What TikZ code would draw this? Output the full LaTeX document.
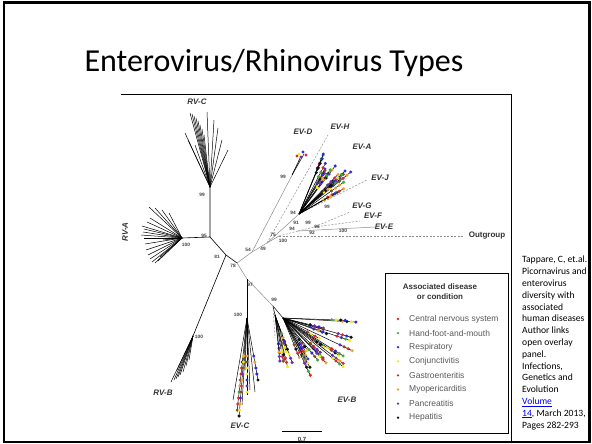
\documentclass[tikz,border=0pt]{standalone}
\usepackage{fontspec}
\setmainfont{Carlito}
\newfontfamily\arialf{Liberation Sans}
\usetikzlibrary{calc}
\definecolor{dc1}{HTML}{E3262B}
\definecolor{dc2}{HTML}{3DAA3D}
\definecolor{dc3}{HTML}{2A2AE0}
\definecolor{dc4}{HTML}{F2EA1C}
\definecolor{dc5}{HTML}{8A4A1F}
\definecolor{dc6}{HTML}{F0A23A}
\definecolor{dc7}{HTML}{6B2FB0}
\definecolor{dc8}{HTML}{111111}
\definecolor{linkblue}{HTML}{0000EE}
\tikzset{
 lab/.style={font=\arialf\bfseries\itshape\fontsize{8}{9}\selectfont, text=black!80, inner sep=0},
 bs/.style={font=\arialf\bfseries\fontsize{4.8}{5}\selectfont, text=black!75, inner sep=0},
 rv/.style={line width=0.6pt, black},
 evl/.style={line width=0.5pt, black!45},
 evd/.style={line width=0.5pt, black!45, dash pattern=on 2pt off 1.5pt},
 tb/.style={line width=0.5pt, black},
 legtxt/.style={font=\arialf\fontsize{8.5}{9}\selectfont, text=black!65, anchor=west, inner sep=0},
}
\begin{document}
\begin{tikzpicture}[x=1pt,y=-1pt]
\useasboundingbox (0,0) rectangle (592,444);
\fill[white] (0,0) rectangle (592,444);

% title
\node[font=\fontsize{32}{38}\selectfont, anchor=base, inner sep=0] (title) at (274,72) {Enterovirus/Rhinovirus Types};

% figure border
\draw[line width=1pt] (121,95) -- (511,95) -- (511,442);

% ---------- tree coordinates
\coordinate (A) at (210,237);
\coordinate (RVCr) at (210,187);
\coordinate (RVAr) at (182,238);
\coordinate (B) at (226,255);
\coordinate (RVBr) at (193,336);
\coordinate (M) at (237,263);
\coordinate (N1) at (252,252);
\coordinate (N2) at (267,243);
\coordinate (N3) at (279,236);
\coordinate (N4) at (299,214);
\coordinate (N6) at (298,231);
\coordinate (N7) at (314,227);
\coordinate (P1) at (247,279);
\coordinate (P2) at (247,318);
\coordinate (P3) at (273,306);
\coordinate (G1) at (275,315);
\coordinate (G2) at (283,318);
\coordinate (EVDr) at (300,160);
\coordinate (EVHe) at (328,135);
\coordinate (EVJe) at (367,180);
\coordinate (EVGe) at (350,212);
\coordinate (EVFe) at (360,221);
\coordinate (EVEe) at (375,227);
\coordinate (OGe) at (463,236);
\coordinate (EVBd) at (275,338);

% RV backbone
\draw[rv] (RVCr) -- (A) -- (RVAr);
\draw[rv] (A) -- (B) -- (M);
\draw[rv] (B) -- (RVBr);
% RV-C fan
\foreach \tx/\ty in {190/113,192/114,194/116,196/118,198/121,200/125,202/129,204/135,185/133,188/140,195/145,214/120,218/128,222/140,228/150,207/112}
  \draw[tb] (RVCr) -- (\tx,\ty);
% RV-A fan
\foreach \tx/\ty in {149/207,155/208,162/210,169/213,142/226,143/232,144/238,145/244,146/250,148/255,150/259,152/262,155/263,158/261,160/257,147/222,150/218,163/240,141/235,144/229}
  \draw[tb] (RVAr) -- (\tx,\ty);
% RV-B fan
\foreach \tx/\ty in {174/380,176/379,178/377,180/375,183/372,186/366,189/360,177/370,171/382}
  \draw[tb] (RVBr) -- (\tx,\ty);

% EV backbone
\draw[evl] (M) -- (N1) -- (N2) -- (N3);
\draw[evl] (N1) -- (EVDr);
\draw[evd] (N2) -- (EVHe);
\draw[evl] (N2) -- (N4);
\draw[evd] (N3) -- (OGe);
\draw[evd] (N3) -- (N6);
\draw[evd] (N6) -- (N7) -- (EVGe);
\draw[evd] (N7) -- (EVFe);
\draw[evl] (N6) -- (EVEe);
\draw[evd] (N4) -- (EVJe);
\draw[evl] (M) -- (P1) -- (P3);
\draw[rv] (P1) -- (P2);
\draw[tb] (P3) -- (G1);
\draw[tb] (P3) -- (G2);
\draw[evd] (P3) -- (EVBd);

% EV-D tip
\draw[tb] (292,175) -- (301,156);
\draw[tb] (292,175) -- (304,154);
\foreach \dx/\dy/\cc in {299/154/4,303/152/3,306/155/1,301/157/7,297/156/1}
  \fill[fill=dc\cc] (\dx,\dy) circle (1.7);

% EV-A
\pgfmathsetseed{11}
\foreach \k in {1,...,22}{
  \pgfmathsetmacro{\myang}{292+44*rnd}
  \pgfmathsetmacro{\mylen}{42+26*rnd}
  \draw[tb] (N4) -- ++(\myang:\mylen);
  \foreach \j in {0,...,3}{
    \pgfmathsetmacro{\dcol}{int(min(8,1+8*rnd))}
    \pgfmathsetmacro{\rr}{\mylen-5*\j}
    \fill[fill=dc\dcol] (N4) ++(\myang:\rr) circle (1.7);
  }
}

% EV-C
\foreach \tx/\ty in {233/400,237/412,239/417,242/405,247/395,250/390,255/392,258/380,245/370}
  \draw[tb] (P2) -- (\tx,\ty);
\pgfmathsetseed{5}
\foreach \tx/\ty in {237/412,247/395,258/380,239/417}{
  \foreach \yy in {356,362,...,\ty}{
    \pgfmathsetmacro{\dcol}{int(min(8,1+8*rnd))}
    \pgfmathsetmacro{\xx}{247+(\tx-247)*(\yy-318)/(\ty-318)}
    \fill[fill=dc\dcol] (\xx,\yy) circle (1.7);
  }
}

% EV-B
\pgfmathsetseed{23}
\foreach \k in {1,...,9}{
  \pgfmathsetmacro{\myang}{70+14*rnd}
  \pgfmathsetmacro{\mylen}{25+30*rnd}
  \draw[tb] (G1) -- ++(\myang:\mylen);
  \foreach \j in {0,...,2}{
    \pgfmathsetmacro{\dcol}{int(min(8,1+8*rnd))}
    \pgfmathsetmacro{\rr}{\mylen-4.5*\j}
    \fill[fill=dc\dcol] (G1) ++(\myang:\rr) circle (1.7);
  }
}
\foreach \k in {1,...,26}{
  \pgfmathsetmacro{\myang}{2+66*rnd}
  \pgfmathsetmacro{\mylen}{40+38*rnd}
  \draw[tb] (G2) -- ++(\myang:\mylen);
  \foreach \j in {0,...,3}{
    \pgfmathsetmacro{\dcol}{int(min(8,1+8*rnd))}
    \pgfmathsetmacro{\rr}{\mylen-4.5*\j}
    \fill[fill=dc\dcol] (G2) ++(\myang:\rr) circle (1.7);
  }
}

% clade labels
\node[lab] (lrvc) at (197,102) {RV-C};
\node[lab, rotate=90] (lrva) at (125,232) {RV-A};
\node[lab] (lrvb) at (163,393) {RV-B};
\node[lab] (levc) at (240,426) {EV-C};
\node[lab] (levb) at (347,400) {EV-B};
\node[lab] (levd) at (303,132) {EV-D};
\node[lab] (levh) at (340,127) {EV-H};
\node[lab] (leva) at (362,147) {EV-A};
\node[lab] (levj) at (380,178) {EV-J};
\node[lab] (levg) at (362,206) {EV-G};
\node[lab] (levf) at (373,216) {EV-F};
\node[lab] (leve) at (384,227) {EV-E};
\node[lab, font=\arialf\bfseries\fontsize{8}{9}\selectfont] (log) at (487,236) {Outgroup};

% bootstrap values
\foreach \bx/\by/\bt [count=\bi] in {202/195/99,204/236/95,186/245/100,217/257/81,233/266/78,199/337/100,248/250/54,263/249/49,283/177/99,293/213/94,327/207/99,296/223/91,308/223/99,317/227/96,292/229/94,273/235/75,283/241/100,312/233/92,343/231/100,250/285/97,238/315/100,274/300/99}
  \node[bs] (bs\bi) at (\bx,\by) {\bt};

% scale bar
\draw[line width=1pt] (282,431) -- (322,431);
\node[font=\arialf\bfseries\fontsize{6}{7}\selectfont, text=black!80, inner sep=0] (scl) at (302,439) {0.7};

% legend
\draw[line width=1pt] (385,273) rectangle (508,433);
\node[font=\arialf\bfseries\fontsize{8}{10}\selectfont, text=black!80, align=center, inner sep=0] (legt) at (440,292) {Associated disease\\or condition};
\foreach \lt [count=\li] in {Central nervous system,Hand-foot-and-mouth,Respiratory,Conjunctivitis,Gastroenteritis,Myopericarditis,Pancreatitis,Hepatitis}{
  \pgfmathsetmacro{\ly}{319+14.1*(\li-1)}
  \fill[fill=dc\li] (398,\ly) circle (1.3);
  \node[legtxt] (leg\li) at (409,\ly) {\lt};
}

% citation
\node[anchor=north west, align=left, inner sep=0, font=\fontsize{9.6}{11.8}\selectfont] (cite) at (522,256) {Tappare, C, et.al.\\Picornavirus and\\enterovirus\\diversity with\\associated\\human diseases\\Author links\\open overlay\\panel.\\Infections,\\Genetics and\\Evolution\\{\color{linkblue}\underline{Volume}}\\{\color{linkblue}\underline{14}}, March 2013,\\Pages 282-293};

% slide frame
\draw[line width=2.5pt] (4,2.5) rectangle (589.5,442);
\end{tikzpicture}
\end{document}
